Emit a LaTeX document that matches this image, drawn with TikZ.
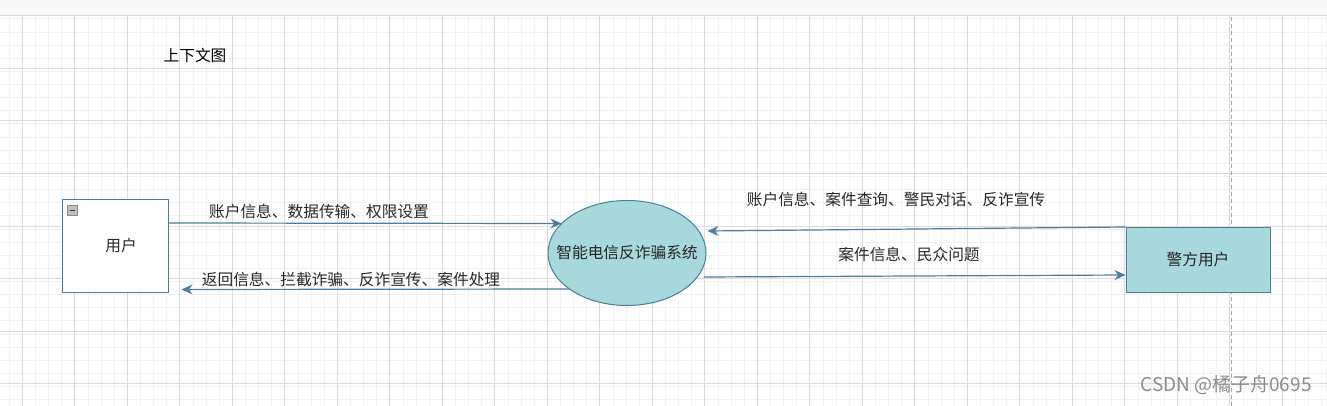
\documentclass[tikz,border=0pt]{standalone}
\usepackage{fontspec}
\setmainfont{Noto Sans CJK SC}
\usepackage{tikz}
\usetikzlibrary{arrows.meta,positioning,calc,shapes.geometric}
\usepackage{xcolor}
\definecolor{gridmajor}{RGB}{220,220,220}
\definecolor{gridminor}{RGB}{241,241,241}
\definecolor{edgeblue}{RGB}{74,125,160}
\definecolor{tealfill}{RGB}{167,216,219}
\definecolor{labeltext}{RGB}{40,40,40}

\begin{document}
\begin{tikzpicture}[
  x=1pt, y=-1pt,
  every node/.style={font=\fontsize{15.7}{18}\selectfont, text=labeltext},
  entity/.style={rectangle, draw=edgeblue, line width=1pt, inner sep=0pt},
  process/.style={ellipse, draw=edgeblue, line width=1pt, fill=tealfill, inner sep=0pt, minimum width=158pt, minimum height=105pt},
  flow/.style={draw=edgeblue, line width=1.2pt, -{Stealth[length=11pt,width=10pt]}},
  flowlabel/.style={inner sep=0pt}
]
\useasboundingbox (0,0) rectangle (1327,406);
\fill[white] (0,0) rectangle (1327,406);

% Grid
\foreach \i in {0,...,101} \draw[gridminor, line width=0.8pt] (9.2+13.125*\i,16) -- (9.2+13.125*\i,406);
\foreach \j in {0,...,30} \draw[gridminor, line width=0.8pt] (0,16+2.9+13.125*\j) -- (1327,16+2.9+13.125*\j);
\foreach \i in {0,...,25} \draw[gridmajor, line width=1pt] (22.3+52.5*\i,16) -- (22.3+52.5*\i,406);
\foreach \j in {0,...,6} \draw[gridmajor, line width=1pt] (0,68.5+52.5*\j) -- (1327,68.5+52.5*\j);

% Top bar and page break
\fill[black!3] (0,0) rectangle (1327,15);
\draw[black!15, line width=1.2pt] (0,15.5) -- (1327,15.5);
\draw[black!35, line width=1pt, dash pattern=on 4pt off 3pt] (1231,17) -- (1231,406);

% Title
\node[text=black] (title) at (195,55) {上下文图};

% Entities and process
\node[entity, fill=white, minimum width=106pt, minimum height=92pt,
      label={[xshift=6pt, text=labeltext]center:用户}] (user) at (115,246) {};
\node[draw=black!45, fill=black!25, minimum size=10pt, inner sep=0pt] (collapse) at (72.5,210.5) {};
\draw[black!80, line width=1.2pt] ($(collapse.west)+(2.5,0)$) -- ($(collapse.east)+(-2.5,0)$);
\node[process, label={[text=labeltext]center:智能电信反诈骗系统}] (sys) at (627,253) {};
\node[entity, fill=tealfill, minimum width=144pt, minimum height=65pt] (police) at (1198,259.5) {警方用户};

% Flows
\coordinate (userback) at ($(user.south east)+(13,-3)$);
\draw[flow] ($(user.north east)+(0,23.5)$) -- ($(sys.west)+(14,-29.5)$);
\draw[flow] ($(sys.west)+(22,36)$) -- (userback);
\draw[flow] ($(police.north west)+(0,0.5)$) -- ($(sys.east)+(1,-22)$);
\draw[flow] ($(sys.east)+(-3,24)$) -- ($(police.west)+(0,15.5)$);

% Labels
\node[flowlabel] (l1) at (319,212) {账户信息、数据传输、权限设置};
\node[flowlabel] (l2) at (351,279) {返回信息、拦截诈骗、反诈宣传、案件处理};
\node[flowlabel] (l3) at (896,200) {账户信息、案件查询、警民对话、反诈宣传};
\node[flowlabel] (l4) at (909,254) {案件信息、民众问题};

% Watermark
\node[text=black!45, font=\fontsize{19}{22}\selectfont] (mark) at (1226,385) {CSDN @橘子舟0695};
\end{tikzpicture}
\end{document}
